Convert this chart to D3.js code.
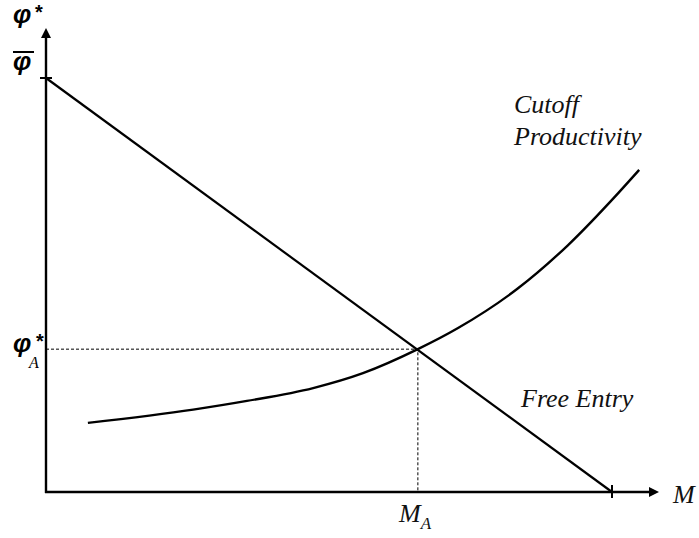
<!DOCTYPE html>
<html>
<head>
<meta charset="utf-8">
<script src="https://cdn.jsdelivr.net/npm/d3@7"></script>
<style>
  body { margin: 0; background: #fff; }
  svg { display: block; }
</style>
</head>
<body>
<div id="chart"></div>
<script>
// Кривые модели: производительность отсечения и свободный вход
const freeEntryM = [0, 10];
const freeEntryPhi = [10, 0];

const cutoffM = [0.74, 2.60, 3.55, 4.72, 5.60, 6.57, 7.28, 8.34, 9.22, 10.11, 10.48];
const cutoffPhi = [1.67, 1.99, 2.20, 2.51, 2.87, 3.45, 3.96, 4.92, 5.96, 7.22, 7.78];

const equilibrium = { m: 6.57, phi: 3.45 };
const phiBar = 10;
const mMax = 10;

const width = 699, height = 538;

const svg = d3.select("#chart")
    .append("svg")
    .attr("width", width)
    .attr("height", height);

const x = d3.scaleLinear().domain([0, 10]).range([46, 612]);
const y = d3.scaleLinear().domain([0, 10]).range([492, 78]);

const xEnd = x.invert(659);
const yEnd = y.invert(28);

// Оси
svg.append("line")
    .attr("x1", x(0) - 1).attr("y1", y(0))
    .attr("x2", x(xEnd) - 8).attr("y2", y(0))
    .attr("stroke", "#000").attr("stroke-width", 2.4);

svg.append("line")
    .attr("x1", x(0)).attr("y1", y(0) + 1)
    .attr("x2", x(0)).attr("y2", y(yEnd) + 8)
    .attr("stroke", "#000").attr("stroke-width", 2.4);

// Стрелки
svg.append("path")
    .attr("d", `M${x(xEnd)},${y(0)} L${x(xEnd) - 10},${y(0) - 5} L${x(xEnd) - 10},${y(0) + 5} Z`)
    .attr("fill", "#000");

svg.append("path")
    .attr("d", `M${x(0)},${y(yEnd)} L${x(0) - 5},${y(yEnd) + 10} L${x(0) + 5},${y(yEnd) + 10} Z`)
    .attr("fill", "#000");

// Засечки
svg.append("line")
    .attr("x1", x(0) - 6).attr("x2", x(0) + 6)
    .attr("y1", y(phiBar)).attr("y2", y(phiBar))
    .attr("stroke", "#000").attr("stroke-width", 2);

svg.append("line")
    .attr("x1", x(mMax)).attr("x2", x(mMax))
    .attr("y1", y(0) - 7).attr("y2", y(0) + 6)
    .attr("stroke", "#000").attr("stroke-width", 2);

// Пунктир к равновесию
svg.append("path")
    .attr("d", `M${x(0)},${y(equilibrium.phi)} H${x(equilibrium.m)} V${y(0)}`)
    .attr("fill", "none")
    .attr("stroke", "#000")
    .attr("stroke-width", 1)
    .attr("stroke-dasharray", "3,2");

// Свободный вход
const line = d3.line().x(d => x(d[0])).y(d => y(d[1]));

svg.append("path")
    .datum(freeEntryM.map((m, i) => [m, freeEntryPhi[i]]))
    .attr("d", line)
    .attr("fill", "none")
    .attr("stroke", "#000")
    .attr("stroke-width", 2.2);

// Производительность отсечения
svg.append("path")
    .datum(cutoffM.map((m, i) => [m, cutoffPhi[i]]))
    .attr("d", line.curve(d3.curveMonotoneX))
    .attr("fill", "none")
    .attr("stroke", "#000")
    .attr("stroke-width", 2.4);

// Подписи
const serif = "'Liberation Serif', 'Times New Roman', serif";
const sans = "'Liberation Sans', Arial, sans-serif";

function serifLabel(text, px, py) {
    svg.append("text")
        .attr("x", px).attr("y", py)
        .attr("font-family", serif)
        .attr("font-style", "italic")
        .attr("font-size", "26px")
        .attr("fill", "#111")
        .text(text);
}

serifLabel("Cutoff", 514, 113);
serifLabel("Productivity", 514, 145);
serifLabel("Free Entry", 521, 407);
serifLabel("M", 673, 503);

const ma = svg.append("text")
    .attr("x", 399).attr("y", 522)
    .attr("font-family", serif)
    .attr("font-style", "italic")
    .attr("font-size", "26px")
    .attr("fill", "#111");
ma.append("tspan").text("M");
ma.append("tspan").attr("dy", 7).attr("font-size", "17px").text("A");

function phiText(px, py) {
    return svg.append("text")
        .attr("x", px).attr("y", py)
        .attr("font-family", sans)
        .attr("font-style", "italic")
        .attr("font-weight", "bold")
        .attr("font-size", "26px")
        .attr("fill", "#000")
        .text("φ");
}

function star(px, py) {
    svg.append("text")
        .attr("x", px).attr("y", py)
        .attr("font-family", sans)
        .attr("font-weight", "bold")
        .attr("font-size", "20px")
        .attr("fill", "#000")
        .text("*");
}

// φ*
phiText(13, 23);
star(35, 19);

// φ с чертой
phiText(13, 70);
svg.append("line")
    .attr("x1", 13).attr("x2", 34)
    .attr("y1", 52).attr("y2", 52)
    .attr("stroke", "#000").attr("stroke-width", 2);

// φ_A*
phiText(13, 352);
svg.append("text")
    .attr("x", 29).attr("y", 368)
    .attr("font-family", serif)
    .attr("font-style", "italic")
    .attr("font-size", "16px")
    .attr("fill", "#000")
    .text("A");
star(36, 348);
</script>
</body>
</html>
